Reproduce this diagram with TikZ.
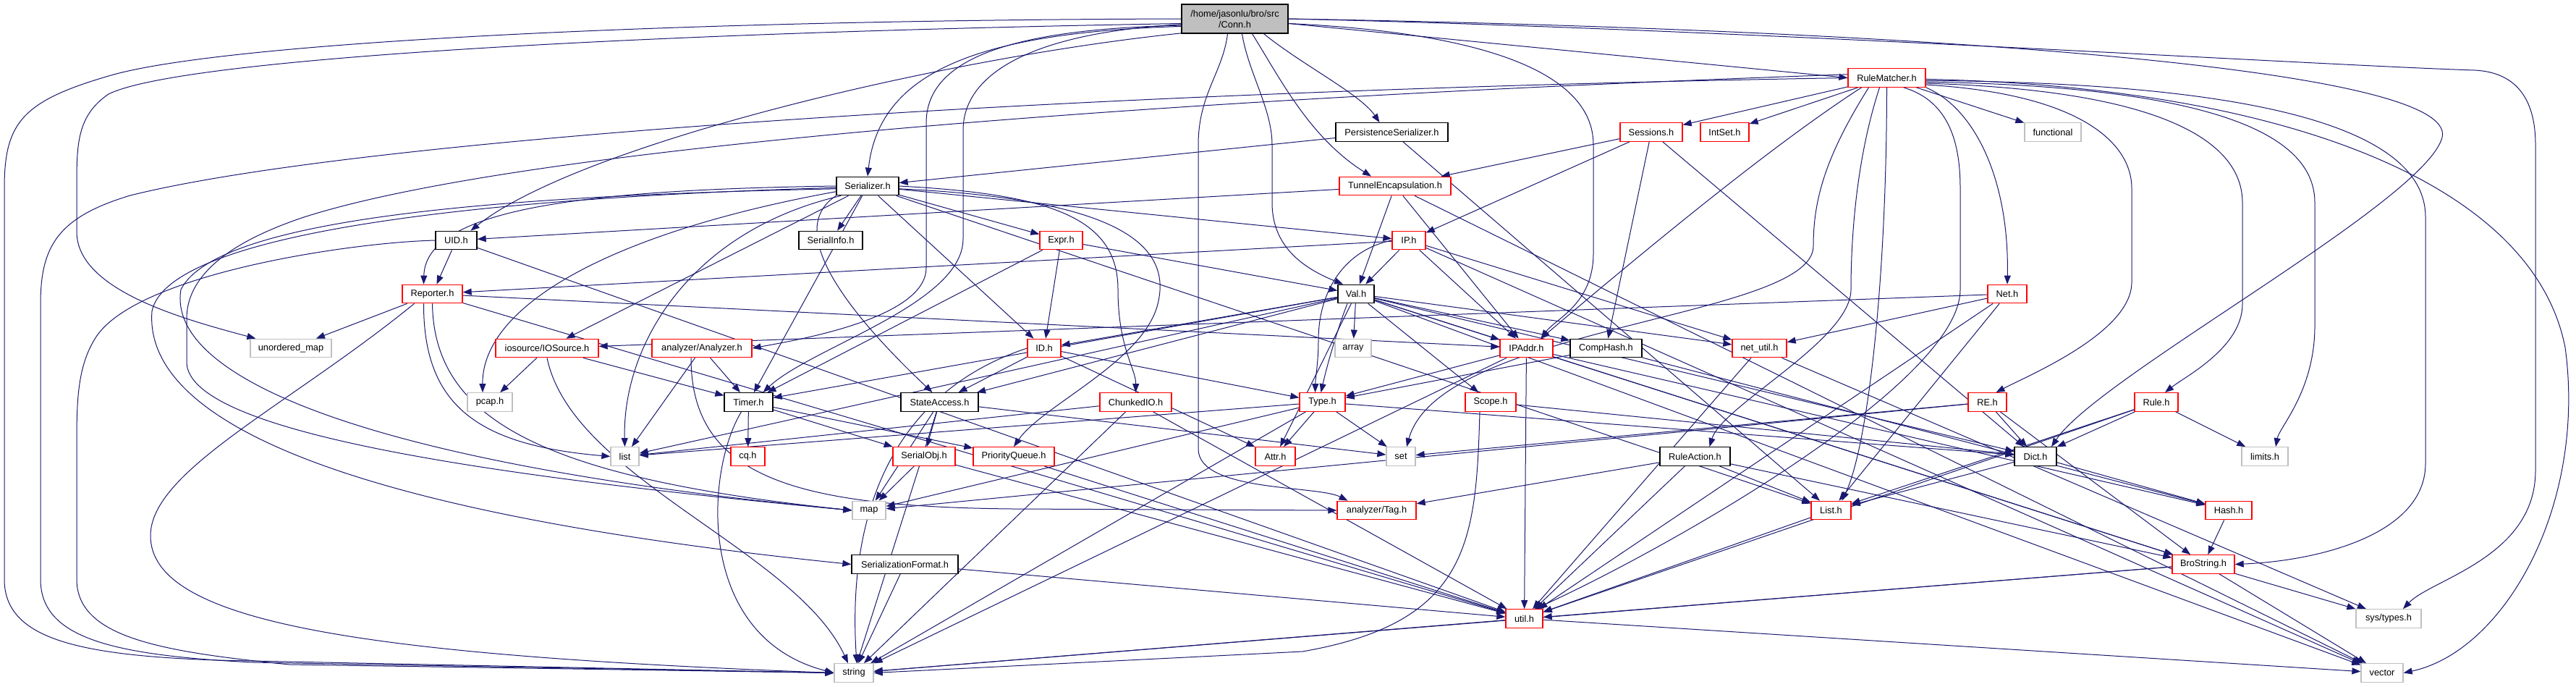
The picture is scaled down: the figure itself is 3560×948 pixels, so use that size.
\documentclass[tikz,border=0pt]{standalone}
\usepackage{fontspec}
\setmainfont{Liberation Sans}
\usetikzlibrary{arrows.meta}
\definecolor{edgec}{HTML}{191970}
\definecolor{grayb}{HTML}{BFBFBF}
\pgfdeclarelayer{bg}
\pgfsetlayers{bg,main}
\begin{document}
\begin{tikzpicture}[x=1pt,y=-1pt,
  nb/.style={draw,line width=1.3pt,fill=white,minimum height=25.5pt,inner sep=0pt,font=\fontsize{12.8}{15}\selectfont},
  rb/.style={nb,draw=red},
  kb/.style={nb,draw=black},
  gb/.style={nb,draw=grayb},
  edg/.style={draw=edgec,line width=1pt,-{Triangle[length=12pt,width=9pt]}}]
\useasboundingbox (0,0) rectangle (3560,948);
% nodes
\node[kb,fill=grayb,align=center,minimum width=147pt,minimum height=40pt] (conn) at (1706.5,26) {/home/jasonlu/bro/src\\/Conn.h};
\node[rb,minimum width=107pt] (rm) at (2607.5,107.5) {RuleMatcher.h};
\node[kb,minimum width=155pt] (persist) at (1923.5,182.5) {PersistenceSerializer.h};
\node[rb,minimum width=86pt] (sessions) at (2282,182.5) {Sessions.h};
\node[rb,minimum width=67pt] (intset) at (2383.5,182.5) {IntSet.h};
\node[gb,minimum width=78pt] (functional) at (2837,182.5) {functional};
\node[kb,minimum width=86pt] (serializer) at (1199,257) {Serializer.h};
\node[rb,minimum width=154pt] (tunnel) at (1928,257) {TunnelEncapsulation.h};
\node[kb,minimum width=88pt] (serialinfo) at (1148,332) {SerialInfo.h};
\node[rb,minimum width=59pt] (expr) at (1466.5,332) {Expr.h};
\node[rb,minimum width=46pt] (ip) at (1947,332) {IP.h};
\node[kb,minimum width=57pt] (uid) at (630.5,332) {UID.h};
\node[rb,minimum width=83pt] (reporter) at (597.5,406) {Reporter.h};
\node[kb,minimum width=50pt] (val) at (1874,406) {Val.h};
\node[rb,minimum width=54pt] (net) at (2774,406) {Net.h};
\node[gb,minimum width=112pt] (umap) at (402,481) {unordered\_map};
\node[rb,minimum width=142pt] (iosource) at (756,481) {iosource/IOSource.h};
\node[rb,minimum width=138pt] (analyzer) at (970,481) {analyzer/Analyzer.h};
\node[rb,minimum width=46pt] (id) at (1443,481) {ID.h};
\node[gb,minimum width=50pt] (array) at (1870,481) {array};
\node[rb,minimum width=73pt] (ipaddr) at (2109.5,481) {IPAddr.h};
\node[kb,minimum width=99pt] (comphash) at (2219.5,481) {CompHash.h};
\node[rb,minimum width=75pt] (netutil) at (2431.5,481) {net\_util.h};
\node[gb,minimum width=62pt] (pcap) at (677,555.5) {pcap.h};
\node[kb,minimum width=67pt] (timer) at (1034.5,555.5) {Timer.h};
\node[kb,minimum width=107pt] (stateaccess) at (1298.5,555.5) {StateAccess.h};
\node[rb,minimum width=99pt] (chunkedio) at (1569.5,555.5) {ChunkedIO.h};
\node[rb,minimum width=63pt] (type) at (1827.5,555.5) {Type.h};
\node[rb,minimum width=70pt] (scope) at (2060,555.5) {Scope.h};
\node[rb,minimum width=53pt] (re) at (2746.5,555.5) {RE.h};
\node[rb,minimum width=60pt] (rule) at (2980,555.5) {Rule.h};
\node[gb,minimum width=39pt] (stdlist) at (863.5,630.5) {list};
\node[rb,minimum width=47pt] (cq) at (1033.5,630.5) {cq.h};
\node[rb,minimum width=86pt] (serialobj) at (1277,630.5) {SerialObj.h};
\node[rb,minimum width=112pt] (pq) at (1401,630.5) {PriorityQueue.h};
\node[rb,minimum width=55pt] (attr) at (1762.5,630.5) {Attr.h};
\node[gb,minimum width=40pt] (nset) at (1936,630.5) {set};
\node[kb,minimum width=97pt] (ruleaction) at (2342.5,630.5) {RuleAction.h};
\node[kb,minimum width=58pt] (dict) at (2813,630.5) {Dict.h};
\node[gb,minimum width=64pt] (limits) at (3130,630.5) {limits.h};
\node[gb,minimum width=46pt] (nmap) at (1201,705) {map};
\node[rb,minimum width=109pt] (tag) at (1902.5,705) {analyzer/Tag.h};
\node[rb,minimum width=55pt] (blist) at (2530.5,705) {List.h};
\node[rb,minimum width=64pt] (hash) at (3080,705) {Hash.h};
\node[kb,minimum width=147pt] (sfmt) at (1250.5,779.5) {SerializationFormat.h};
\node[rb,minimum width=86pt] (brostring) at (3045,779.5) {BroString.h};
\node[rb,minimum width=51pt] (util) at (2106.5,854.5) {util.h};
\node[gb,minimum width=90pt] (systypes) at (3301,854.5) {sys/types.h};
\node[gb,minimum width=54pt] (str) at (1180,929.5) {string};
\node[gb,minimum width=58pt] (vec) at (3292,929.5) {vector};
\begin{pgfonlayer}{bg}
\fill[white] (0,0) rectangle (3560,948);
% Conn.h
\draw[edg] (conn.west) .. controls (900,28) and (300,60) .. (150,105) .. controls (30,140) and (6,170) .. (6,260) -- (6,800) .. controls (6,880) and (100,905) .. (300,912) -- (str.west);
\draw[edg] (conn.185) .. controls (900,45) and (250,80) .. (150,130) .. controls (106,160) and (106,200) .. (106,260) -- (106,320) .. controls (106,400) and (250,440) .. ([xshift=8pt]umap.north west);
\draw[edg] (conn.195) .. controls (1300,80) and (800,200) .. ([xshift=20pt]uid.north);
\draw[edg] (conn.188) .. controls (1350,45) and (1215,100) .. (serializer.north);
\draw[edg] (conn.187) .. controls (1400,40) and (1280,80) .. (1280,170) -- (1280,370) .. controls (1280,440) and (1100,470) .. (analyzer.east);
\draw[edg] (conn.186) .. controls (1430,45) and (1331,100) .. (1331,180) -- (1331,330) .. controls (1331,420) and (1120,480) .. ([xshift=20pt]timer.north);
\draw[edg] ([xshift=10pt]conn.south) .. controls (1725,100) and (1758,150) .. (1758,200) -- (1758,280) .. controls (1758,340) and (1800,370) .. ([xshift=-18pt]val.north);
\draw[edg] ([xshift=-10pt]conn.south) .. controls (1690,100) and (1656,130) .. (1656,200) -- (1656,620) .. controls (1656,680) and (1820,670) .. ([xshift=-40pt]tag.north);
\draw[edg] ([xshift=24pt]conn.south) .. controls (1770,110) and (1810,190) .. ([xshift=-33pt]tunnel.north);
\draw[edg] ([xshift=40pt]conn.south) .. controls (1800,90) and (1880,130) .. ([xshift=-17pt]persist.north);
\draw[edg] (conn.-5) .. controls (2050,45) and (2202,100) .. (2202,200) -- (2202,350) .. controls (2202,420) and (2150,440) .. ([xshift=20pt]ipaddr.north);
\draw[edg] (conn.-5) -- (rm.west);
\draw[edg] (conn.east) .. controls (2600,40) and (3400,90) .. (3375,190) .. controls (3350,280) and (2900,520) .. ([xshift=22pt]dict.north);
\draw[edg] (conn.east) .. controls (2400,40) and (3200,90) .. (3420,97) .. controls (3480,100) and (3504,140) .. (3504,200) -- (3504,650) .. controls (3504,770) and (3360,800) .. ([xshift=20pt]systypes.north);
% RuleMatcher.h
\draw[edg] (rm) -- (sessions);
\draw[edg] (rm) -- (intset);
\draw[edg] (rm) -- (functional);
\draw[edg] (rm.south east) .. controls (2730,150) and (2777,250) .. (net.north);
\draw[edg] (rm.-10) .. controls (2880,130) and (2946,200) .. (2946,260) -- (2946,390) .. controls (2946,460) and (2800,520) .. ([xshift=12pt]re.north);
\draw[edg] (rm.-8) .. controls (3000,125) and (3099,200) .. (3099,280) -- (3099,420) .. controls (3099,480) and (3020,520) .. ([xshift=12pt]rule.north);
\draw[edg] (rm.-6) .. controls (3100,120) and (3199,200) .. (3199,280) -- (3199,450) .. controls (3199,540) and (3150,590) .. ([xshift=15pt]limits.north);
\draw[edg] (rm.-4) .. controls (3200,115) and (3352,200) .. (3352,300) -- (3352,640) .. controls (3352,740) and (3200,775) .. (brostring.east);
\draw[edg] (rm.-2) .. controls (3150,120) and (3500,250) .. (3545,480) .. controls (3575,700) and (3460,900) .. (vec.east);
\draw[edg] (rm.-30) .. controls (2695,140) and (2709,200) .. (2709,260) -- (2709,400) .. controls (2709,530) and (2300,760) .. ([xshift=15pt]util.north);
\draw[edg] (rm.south) .. controls (2607,400) and (2580,620) .. ([xshift=15pt]blist.north);
\draw[edg] ([xshift=-10pt]rm.south) .. controls (2565,220) and (2558,330) .. (2558,400) .. controls (2558,470) and (2380,560) .. ([xshift=20pt]ruleaction.north);
\draw[edg] ([xshift=-25pt]rm.south) .. controls (2520,220) and (2506,280) .. (2506,340) .. controls (2506,440) and (1990,450) .. ([xshift=8pt]nset.north);
\draw[edg] ([xshift=-35pt]rm.south) .. controls (2450,200) and (2280,340) .. ([xshift=20pt]ipaddr.north);
\draw[edg] (rm.west) .. controls (1500,125) and (500,190) .. (180,270) .. controls (80,300) and (56,340) .. (56,420) -- (56,800) .. controls (56,880) and (150,905) .. (350,915) -- (str.west);
\draw[edg] (rm.175) .. controls (1500,140) and (700,210) .. (420,300) .. controls (300,340) and (258,390) .. (258,440) -- (258,500) .. controls (258,600) and (700,660) .. (nmap.west);
% Serializer.h
\draw[edg] (serializer.west) .. controls (800,262) and (588,290) .. ([xshift=-12pt]reporter.north);
\draw[edg] (serializer.190) .. controls (850,320) and (666,420) .. ([xshift=-10pt]pcap.north);
\draw[edg] (serializer.200) .. controls (950,320) and (860,480) .. (stdlist.north);
\draw[edg] (serializer.185) .. controls (700,270) and (300,300) .. (250,400) .. controls (230,520) and (500,640) .. (nmap.west);
\draw[edg] (serializer.183) .. controls (600,275) and (230,330) .. (210,430) .. controls (200,560) and (400,700) .. (sfmt.west);
\draw[edg] (serializer) -- (iosource);
\draw[edg] (serializer) -- (timer);
\draw[edg] (serializer.south west) .. controls (1080,320) and (1180,440) .. ([xshift=-10pt]stateaccess.north);
\draw[edg] (serializer) -- (serialinfo);
\draw[edg] (serializer) -- (id);
\draw[edg] (serializer) -- (expr);
\draw[edg] (serializer) -- (ip);
\draw[edg] (serializer.east) .. controls (1450,268) and (1545,300) .. (1545,400) .. controls (1545,480) and (1570,510) .. (chunkedio.north);
\draw[edg] (serializer.-5) .. controls (1550,275) and (1620,340) .. (1600,420) .. controls (1580,500) and (1440,560) .. (pq.north);
\draw[edg] (serializer) -- (blist);
% UID.h
\draw[edg] (uid) -- (reporter);
\draw[edg] (uid) -- (util);
\draw[edg] (uid.west) .. controls (480,335) and (180,380) .. (130,470) .. controls (106,510) and (106,560) .. (106,620) -- (106,800) .. controls (106,880) and (220,900) .. (400,918) -- (str.west);
% Reporter.h
\draw[edg] (reporter) -- (umap);
\draw[edg] ([xshift=-25pt]reporter.south) .. controls (400,560) and (208,650) .. (208,740) .. controls (208,860) and (500,905) .. (str.west);
\draw[edg] ([xshift=-12pt]reporter.south) .. controls (585,560) and (660,615) .. (stdlist.west);
\draw[edg] (reporter.south) .. controls (600,580) and (750,660) .. (nmap.west);
\draw[edg] (reporter) -- (ipaddr);
\draw[edg] (reporter) -- (util);
% IOSource.h
\draw[edg] (iosource) -- (pcap);
\draw[edg] (iosource) -- (timer);
\draw[edg] (iosource.south) .. controls (790,660) and (1100,760) .. ([xshift=-8pt]str.north);
% Analyzer.h
\draw[edg] (analyzer) -- (timer);
\draw[edg] (analyzer) -- (stdlist);
\draw[edg] ([xshift=-15pt]analyzer.south) .. controls (955,660) and (1100,700) .. (1400,703) -- (tag.west);
% Expr.h
\draw[edg] (expr) -- (id);
\draw[edg] (expr) -- (timer);
\draw[edg] (expr) -- (val);
% ID.h
\draw[edg] (id) -- (type);
\draw[edg] (id) -- (attr);
\draw[edg] (id) -- (stateaccess);
\draw[edg] (id.west) .. controls (1240,540) and (1170,700) .. ([xshift=4pt]str.north);
% Val.h
\draw[edg] (val) -- (array);
\draw[edg] ([xshift=-12pt]val.south) .. controls (1850,450) and (1835,500) .. ([xshift=-2pt]type.north);
\draw[edg] (val) -- (ipaddr);
\draw[edg] (val) -- (comphash);
\draw[edg] (val) -- (netutil);
\draw[edg] (val) -- (dict);
\draw[edg] (val) -- (brostring);
\draw[edg] (val) -- (vec);
\draw[edg] (val) -- (attr);
\draw[edg] (val) -- (scope);
\draw[edg] (val) -- (stateaccess);
\draw[edg] (val) -- (id);
\draw[edg] (val) -- (timer);
\draw[edg] (val) -- (stdlist);
% TunnelEncapsulation.h
\draw[edg] (tunnel) -- (uid);
\draw[edg] (tunnel) -- (val);
\draw[edg] (tunnel) -- (ipaddr);
\draw[edg] (tunnel) -- (vec);
% IP.h
\draw[edg] (ip) -- (reporter);
\draw[edg] (ip) -- (val);
\draw[edg] (ip) -- (ipaddr);
\draw[edg] (ip) -- (netutil);
\draw[edg] (ip.west) .. controls (1860,345) and (1822,400) .. (1822,470) .. controls (1822,500) and (1818,520) .. ([xshift=-10pt]type.north);
\draw[edg] (ip) -- (vec);
% Sessions.h
\draw[edg] (sessions) -- (tunnel);
\draw[edg] (sessions) -- (ip);
\draw[edg] (sessions) -- (comphash);
\draw[edg] (sessions) -- (dict);
% PersistenceSerializer.h
\draw[edg] (persist) -- (serializer);
\draw[edg] (persist) -- (blist);
% Net.h
\draw[edg] (net) -- (iosource);
\draw[edg] (net) -- (netutil);
\draw[edg] (net) -- (blist);
\draw[edg] (net) -- (util);
% net_util.h
\draw[edg] (netutil) -- (util);
\draw[edg] (netutil) -- (systypes);
% IPAddr.h
\draw[edg] (ipaddr) -- (type);
\draw[edg] (ipaddr) -- (util);
\draw[edg] (ipaddr) -- (str);
\draw[edg] (ipaddr) -- (brostring);
\draw[edg] (ipaddr) -- (hash);
% CompHash.h
\draw[edg] (comphash) -- (type);
\draw[edg] (comphash) -- (hash);
% Type.h
\draw[edg] (type) -- (attr);
\draw[edg] (type) -- (nset);
\draw[edg] (type) -- (stdlist);
\draw[edg] (type) -- (dict);
\draw[edg] (type) -- (nmap);
\draw[edg] (type) -- (str);
% Scope.h
\draw[edg] (scope) -- (dict);
\draw[edg] ([xshift=-15pt]scope.south) .. controls (2040,750) and (2030,860) .. (1800,900) -- (str.east);
% RuleAction.h
\draw[edg] (ruleaction) -- (tag);
\draw[edg] (ruleaction) -- (blist);
\draw[edg] (ruleaction) -- (util);
\draw[edg] (ruleaction) -- (brostring);
% RE.h
\draw[edg] (re) -- (dict);
\draw[edg] (re) -- (brostring);
\draw[edg] (re) -- (nset);
\draw[edg] (re) -- (nmap);
% Rule.h
\draw[edg] (rule) -- (dict);
\draw[edg] (rule) -- (blist);
\draw[edg] (rule) -- (util);
\draw[edg] (rule) -- (limits);
% Dict.h, Hash.h, BroString.h, util.h, List.h
\draw[edg] (dict) -- (blist);
\draw[edg] (dict) -- (hash);
\draw[edg] (hash) -- (brostring);
\draw[edg] (brostring) -- (systypes);
\draw[edg] (brostring) -- (vec);
\draw[edg] (brostring) -- (util);
\draw[edg] (brostring) -- (str);
\draw[edg] (util) -- (str);
\draw[edg] (util) -- (vec);
\draw[edg] (blist) -- (util);
% StateAccess.h
\draw[edg] (stateaccess) -- (serialobj);
\draw[edg] (stateaccess) -- (nmap);
\draw[edg] (stateaccess) -- (str);
\draw[edg] (stateaccess) -- (nset);
% SerialObj.h, PriorityQueue.h, SerializationFormat.h
\draw[edg] (serialobj) -- (nmap);
\draw[edg] (serialobj) -- (util);
\draw[edg] (pq) -- (util);
\draw[edg] (sfmt) -- (str);
\draw[edg] (sfmt) -- (util);
% Timer.h
\draw[edg] (timer) -- (cq);
\draw[edg] (timer) -- (serialobj);
\draw[edg] (timer) -- (pq);
\draw[edg] ([xshift=-10pt]timer.south) .. controls (975,650) and (960,880) .. (str.west);
% ChunkedIO.h
\draw[edg] (chunkedio) -- (stdlist);
\draw[edg] (chunkedio) -- (str);
\draw[edg] (chunkedio) -- (util);
\end{pgfonlayer}
\end{tikzpicture}
\end{document}
